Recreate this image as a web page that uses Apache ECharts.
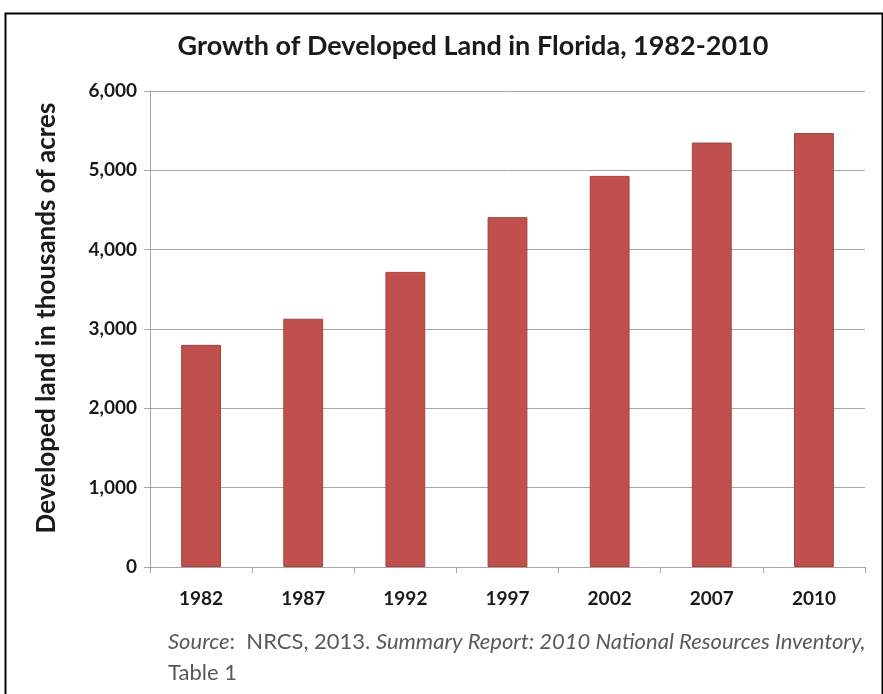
<!DOCTYPE html>
<html>
<head>
<meta charset="utf-8">
<script src="https://cdn.jsdelivr.net/npm/echarts@6/dist/echarts.min.js"></script>
<style>
  html, body { margin: 0; padding: 0; background: #fff; }
  #chart { width: 883px; height: 694px; }
</style>
</head>
<body>
<div id="chart"></div>
<script>
// Developed land in Florida, thousands of acres (NRCS National Resources Inventory)
const years = ['1982', '1987', '1992', '1997', '2002', '2007', '2010'];
const developedLand = [2800, 3130, 3720, 4410, 4930, 5350, 5470];
const yTicks = { min: 0, max: 6000, interval: 1000 };
const yAxisTitle = 'Developed land in thousands of acres';

const FONT = 'Lato, "Open Sans", sans-serif';
const chart = echarts.init(document.getElementById('chart'), null, { renderer: 'canvas' });

chart.setOption({
  backgroundColor: '#ffffff',
  animation: false,
  title: {
    text: 'Growth of Developed Land in Florida, 1982-2010',
    left: 468,
    textAlign: 'center',
    top: 28,
    textStyle: { fontFamily: FONT, fontSize: 27, fontWeight: 'bold', color: '#1a1a1a' }
  },
  grid: { left: 150, right: 18, top: 91, bottom: 127, containLabel: false },
  xAxis: {
    type: 'category',
    data: years,
    boundaryGap: true,
    axisLine: { lineStyle: { color: '#a6a6a6', width: 1 } },
    axisTick: { show: true, alignWithLabel: false, length: 6, lineStyle: { color: '#a6a6a6' } },
    axisLabel: { margin: 22, fontFamily: FONT, fontSize: 19, fontWeight: 'bold', color: '#1a1a1a' }
  },
  yAxis: {
    type: 'value',
    min: yTicks.min,
    max: yTicks.max,
    interval: yTicks.interval,
    axisLine: { show: true, lineStyle: { color: '#a6a6a6', width: 1 } },
    axisTick: { show: true, inside: false, length: 6, lineStyle: { color: '#a6a6a6' } },
    splitLine: { show: true, lineStyle: { color: '#a6a6a6', width: 1 } },
    axisLabel: {
      margin: 13,
      fontFamily: FONT, fontSize: 19, fontWeight: 'bold', color: '#1a1a1a',
      formatter: v => v.toLocaleString('en-US')
    }
  },
  series: [{
    type: 'bar',
    data: developedLand,
    barWidth: '39%',
    itemStyle: { color: '#c0504d', borderColor: '#a9413e', borderWidth: 1 }
  }],
  graphic: [
    {
      type: 'rect',
      shape: { x: 5.5, y: 13.5, width: 877, height: 700 },
      style: { fill: null, stroke: '#000', lineWidth: 2 },
      silent: true
    },
    {
      // vertical axis title, sits slightly above the plot's vertical centre
      type: 'text',
      x: 47,
      y: 318,
      rotation: Math.PI / 2,
      style: {
        text: yAxisTitle,
        align: 'center',
        verticalAlign: 'middle',
        fontFamily: FONT, fontSize: 26, fontWeight: 'bold', fill: '#1a1a1a'
      },
      silent: true
    },
    {
      type: 'text',
      left: 168,
      top: 626,
      style: {
        text: '{i|Source}{r|:  NRCS, 2013. }{i|Summary Report: 2010 National Resources Inventory,}\n{r|Table 1}',
        lineHeight: 31,
        rich: {
          i: { fontFamily: FONT, fontStyle: 'italic', fontSize: 22, fill: '#595959', lineHeight: 31 },
          r: { fontFamily: FONT, fontSize: 22, fill: '#595959', lineHeight: 31 }
        }
      }
    }
  ]
});
</script>
</body>
</html>
